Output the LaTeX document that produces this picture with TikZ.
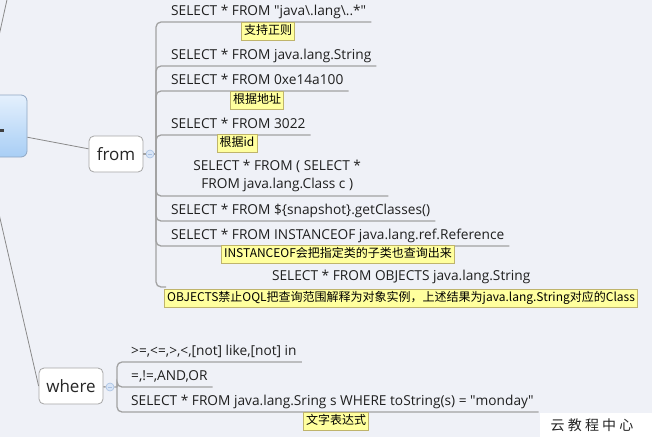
\documentclass[tikz,border=0pt]{standalone}
\usepackage{fontspec}
\setmainfont{Open Sans}
\newfontfamily\cjk{Noto Sans CJK SC}
\definecolor{bgc}{HTML}{EFF1F7}
\definecolor{linec}{HTML}{A2A2A2}
\definecolor{linkc}{HTML}{8A8A8A}
\definecolor{notefill}{HTML}{FFFF9E}
\definecolor{notedraw}{HTML}{BFB46C}
\definecolor{ctrtop}{HTML}{E4F0FD}
\definecolor{ctrbot}{HTML}{A8CEF5}
\definecolor{ctrdraw}{HTML}{8FA7C3}
\definecolor{folddraw}{HTML}{A9C2E4}
\definecolor{foldfill}{HTML}{D9E5F6}
\tikzset{
  topic/.style={anchor=south west,inner xsep=5pt,inner ysep=4pt,text=black!88,font=\fontsize{13.7}{18}\selectfont},
  oneline/.style={topic,text height=10pt,text depth=2pt},
  note/.style={fill=notefill,draw=notedraw,line width=0.6pt,inner xsep=2.5pt,inner ysep=2.5pt,text height=10pt,text depth=3pt,font=\cjk\fontsize{12}{14}\selectfont},
  sub/.style={draw=black!35,fill=white,line width=0.8pt,rounded corners=5pt,text=black!85,font=\fontsize{17}{20}\selectfont},
  fold/.style={circle,minimum size=8pt,inner sep=0pt,fill=foldfill,draw=folddraw,line width=0.6pt},
  branch/.style={draw=linec,line width=1.3pt,rounded corners=5pt},
  link/.style={draw=linkc,line width=0.8pt}
}
\begin{document}
\begin{tikzpicture}[x=1pt,y=-1pt]
  \useasboundingbox (0,0) rectangle (652,437);
  \fill[bgc] (0,0) rectangle (652,437);
  \clip (0,0) rectangle (652,437);
  \node[draw=ctrdraw,line width=0.8pt,rounded corners=6pt,top color=ctrtop,bottom color=ctrbot,minimum width=118pt,minimum height=62pt] (ctr) at (-32,126) {};
  \fill[black!75] (-1,129) rectangle (4,132);
  \coordinate (up) at (14,-32);
  \node[sub,minimum width=54pt,minimum height=36pt] (from) at (116,154) {from};
  \node[sub,minimum width=64pt,minimum height=36pt] (where) at (71,386) {where};
  \draw[link] ([xshift=18pt]ctr.north) -- (up);
  \draw[link] (ctr) -- (from);
  \draw[link] ([xshift=18pt]ctr.south) -- (where.west);
  \node[fold] (fc) at (150,154) {};
  \node[fold] (wc) at (110,387) {};
  \coordinate (fk) at (156,154);
  \coordinate (wk) at (117,387);
  \node[oneline] (t1) at (166,22) {SELECT * FROM \textquotedbl java\textbackslash.lang\textbackslash..*\textquotedbl};
  \node[oneline] (t2) at (166,66) {SELECT * FROM java.lang.String};
  \node[oneline] (t3) at (166,91) {SELECT * FROM 0xe14a100};
  \node[oneline] (t4) at (166,135) {SELECT * FROM 3022};
  \node[topic,align=center,minimum width=222pt] (t5) at (166,196) {SELECT * FROM ( SELECT *\\FROM java.lang.Class c )};
  \node[oneline] (t6) at (166,221) {SELECT * FROM \$\{snapshot\}.getClasses()};
  \node[oneline] (t7) at (166,246) {SELECT * FROM INSTANCEOF java.lang.ref.Reference};
  \node[oneline,minimum width=470pt] (t8) at (166,287) {SELECT * FROM OBJECTS java.lang.String};
  \node[oneline] (w1) at (126,362) {>=,<=,>,<,[not] like,[not] in};
  \node[oneline] (w2) at (126,387) {=,!=,AND,OR};
  \node[oneline] (w3) at (126,412) {SELECT * FROM java.lang.Sring s WHERE toString(s) = \textquotedbl monday\textquotedbl};
  \draw[branch] (from) -- (fc) -- (fk);
  \draw[branch] (where) -- (wc) -- (wk);
  \foreach \t in {t1,t2,t3,t4,t5,t6,t7} {
    \draw[branch] (fk) |- (\t.south east);
  }
  \draw[branch] (fk) |- (t8.south west);
  \foreach \t in {w1,w2,w3} {
    \draw[branch] (wk) |- (\t.south east);
  }
  \draw[folddraw,line width=0.8pt] ([xshift=-2pt]fc.center) -- ([xshift=2pt]fc.center);
  \draw[folddraw,line width=0.8pt] ([xshift=-2pt]wc.center) -- ([xshift=2pt]wc.center);
  \node[note] (n1) at (268,31) {支持正则};
  \node[note] (n3) at (257,100) {根据地址};
  \node[note] (n4) at (237,143) {根据id};
  \node[note] (n7) at (338,254) {INSTANCEOF会把指定类的子类也查询出来};
  \node[note] (n8) at (401,298) {OBJECTS禁止OQL把查询范围解释为对象实例，上述结果为java.lang.String对应的Class};
  \node[note] (nw) at (336,421) {文字表达式};
  \fill[white] (540,413) rectangle (652,437);
  \node[text=black!85,font=\cjk\fontsize{14}{16}\selectfont] (wm) at (592,425) {云 教 程 中 心};
\end{tikzpicture}
\end{document}
